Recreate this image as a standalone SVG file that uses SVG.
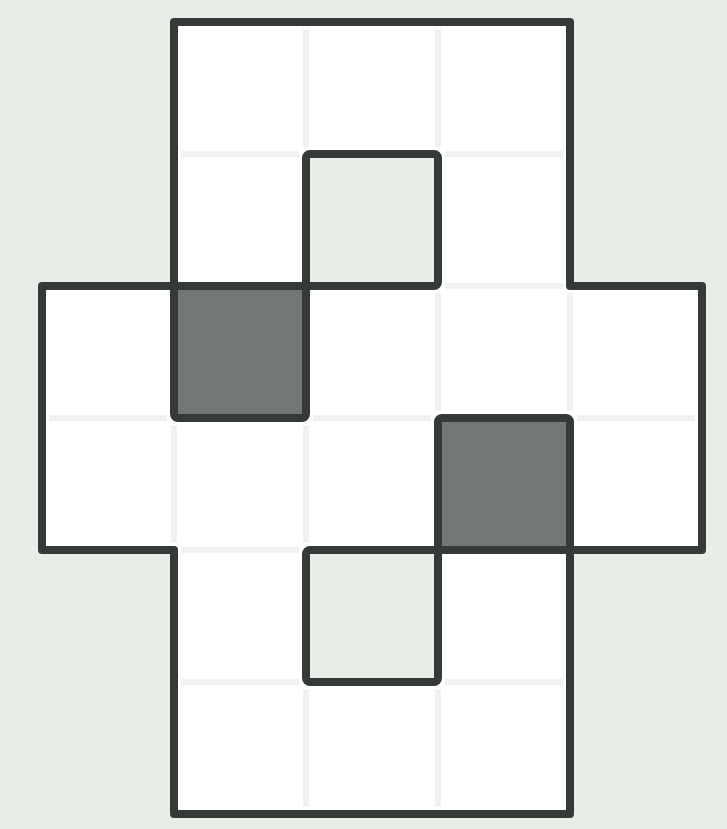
<svg xmlns="http://www.w3.org/2000/svg" width="727" height="829" viewBox="0 0 727 829">
<style>
.w{fill:#ffffff}
.d{fill:#737876}
.h{fill:#e7eee8}
.sep{stroke:#f1f1f1;stroke-width:6;fill:none}
.edge{stroke:#343a38;stroke-width:8;fill:none;stroke-linejoin:round}
</style>
<rect x="0" y="0" width="727" height="829" fill="#e7eee8"/>
<g id="cells">
<path id="board" class="w" d="M174,22 H570 V286 H702 V550 H570 V814 H174 V550 H42 V286 H174 Z"/>
<rect id="hole1" class="h" x="306" y="154" width="132" height="132"/>
<rect id="hole2" class="h" x="306" y="550" width="132" height="132"/>
<rect id="dark1" class="d" x="174" y="286" width="132" height="132"/>
<rect id="dark2" class="d" x="438" y="418" width="132" height="132"/>
</g>
<g id="separators" class="sep">
<line x1="306" y1="29" x2="306" y2="147"/>
<line x1="438" y1="29" x2="438" y2="147"/>
<line x1="438" y1="293" x2="438" y2="411"/>
<line x1="570" y1="293" x2="570" y2="411"/>
<line x1="174" y1="425" x2="174" y2="543"/>
<line x1="306" y1="425" x2="306" y2="543"/>
<line x1="306" y1="689" x2="306" y2="807"/>
<line x1="438" y1="689" x2="438" y2="807"/>
<line x1="181" y1="154" x2="299" y2="154"/>
<line x1="445" y1="154" x2="563" y2="154"/>
<line x1="445" y1="286" x2="563" y2="286"/>
<line x1="49" y1="418" x2="167" y2="418"/>
<line x1="313" y1="418" x2="431" y2="418"/>
<line x1="577" y1="418" x2="695" y2="418"/>
<line x1="181" y1="550" x2="299" y2="550"/>
<line x1="181" y1="682" x2="299" y2="682"/>
<line x1="445" y1="682" x2="563" y2="682"/>
</g>
<g id="outlines" class="edge">
<path d="M174,22 H570 V286 H702 V550 H570 V814 H174 V550 H42 V286 H174 Z"/>
<rect x="306" y="154" width="132" height="132" rx="4"/>
<rect x="306" y="550" width="132" height="132" rx="4"/>
<rect x="174" y="286" width="132" height="132" rx="4"/>
<rect x="438" y="418" width="132" height="132" rx="4"/>
</g>
</svg>
